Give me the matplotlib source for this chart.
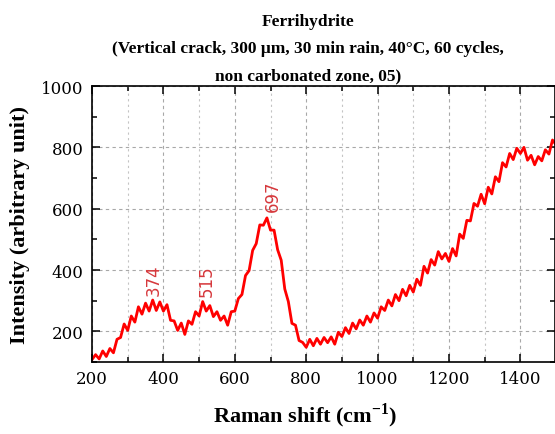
"""Raman spectrum of ferrihydrite, vertical crack, non carbonated zone."""
import matplotlib
matplotlib.use("Agg")
import matplotlib.pyplot as plt
from matplotlib.ticker import MultipleLocator

# Raman shift (cm-1), every 10 cm-1
shift = list(range(200, 1510, 10))
intensity = [
    108, 124, 110, 136, 118, 144, 130, 174, 180, 224,   # 200-290
    203, 250, 230, 280, 256, 292, 266, 302, 268, 296,   # 300-390
    266, 287, 236, 234, 203, 227, 190, 234, 223, 264,   # 400-490
    250, 297, 266, 284, 248, 264, 236, 250, 220, 264,   # 500-590
    266, 307, 320, 382, 398, 464, 486, 547, 546, 570,   # 600-690
    530, 530, 466, 432, 338, 297, 226, 220, 170, 164,   # 700-790
    148, 174, 153, 177, 158, 180, 163, 182, 158, 197,   # 800-890
    183, 212, 193, 227, 208, 237, 220, 250, 230, 260,   # 900-990
    243, 280, 268, 302, 283, 320, 300, 337, 316, 350,   # 1000-1090
    328, 370, 350, 412, 390, 434, 416, 460, 436, 454,   # 1100-1190
    428, 470, 446, 517, 503, 562, 560, 617, 608, 647,   # 1200-1290
    616, 670, 648, 704, 688, 750, 736, 780, 760, 797,   # 1300-1390
    780, 800, 758, 774, 743, 770, 756, 792, 778, 824,   # 1400-1490
    808,                                                # 1500
]

peak_pos = [374, 522, 706]
peak_y = [320, 314, 592]
peak_labels = ["374", "515", "697"]

title = ("Ferrihydrite\n(Vertical crack, 300 \u03bcm, 30 min rain, 40\u00b0C, 60 cycles,\n"
         "non carbonated zone, 05)")

plt.rcParams["mathtext.fontset"] = "custom"
plt.rcParams["mathtext.rm"] = "Liberation Serif"
plt.rcParams["mathtext.bf"] = "Liberation Serif:bold"

fig = plt.figure(figsize=(5.55, 4.35), dpi=100)
ax = fig.add_axes([0.1658, 0.1655, 0.8342, 0.6345])

ax.plot(shift, intensity, color="#ff0000", lw=2.0)

for x, y, lab in zip(peak_pos, peak_y, peak_labels):
    ax.text(x, y, lab, rotation=90, ha="center", va="bottom",
            color="#d6383c", fontsize=12, family="DejaVu Sans")

ax.set_xlim(200, 1497)
ax.set_ylim(100, 1000)
ax.xaxis.set_major_locator(MultipleLocator(200))
ax.xaxis.set_minor_locator(MultipleLocator(100))
ax.yaxis.set_major_locator(MultipleLocator(200))
ax.yaxis.set_minor_locator(MultipleLocator(100))

ax.grid(True, which="major", ls=(0, (3, 3)), color="#a8a8a8", lw=0.8)
ax.grid(True, which="minor", axis="x", ls=(0, (2, 3)), color="#c4c4c4", lw=0.8)

ax.tick_params(which="both", direction="in", top=True, right=True, width=1.1)
ax.tick_params(which="major", length=6, labelsize=12, pad=6)
ax.tick_params(which="minor", length=3.5)
for lab in ax.get_xticklabels() + ax.get_yticklabels():
    lab.set_family("DejaVu Serif")
for s in ax.spines.values():
    s.set_linewidth(1.2)

ax.set_xlabel(r"Raman shift (cm$^{\mathbf{-1}}$)", family="Liberation Serif",
              fontweight="bold", fontsize=16)
ax.xaxis.set_label_coords(0.46, -0.14)
ax.set_ylabel("Intensity (arbitrary unit)", family="Liberation Serif",
              fontweight="bold", fontsize=16, labelpad=8)
ax.set_title(title, family="Liberation Serif", fontweight="bold", fontsize=12.5,
             linespacing=1.9, pad=5, x=0.467)

fig.savefig("out.png", dpi=100)
